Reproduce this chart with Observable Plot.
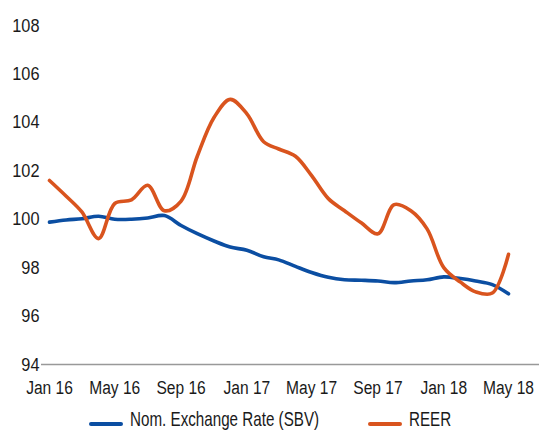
<!DOCTYPE html>
<html>
<head>
<meta charset="utf-8">
<script src="https://cdn.jsdelivr.net/npm/d3@7"></script>
<script src="https://cdn.jsdelivr.net/npm/@observablehq/plot@0.6"></script>
<style>
  html, body { margin: 0; padding: 0; background: #fff; }
  body { width: 539px; height: 431px; overflow: hidden; position: relative; font-family: "Liberation Sans", Arial, sans-serif; }
  #chart { position: absolute; left: 0; top: 0; }
  #legend { position: absolute; left: 0; top: 400px; }
</style>
</head>
<body>
<div id="chart"></div>
<svg id="legend" width="539" height="31"></svg>
<script>
const months = ["2016-01","2016-02","2016-03","2016-04","2016-05","2016-06","2016-07","2016-08","2016-09","2016-10","2016-11","2016-12",
  "2017-01","2017-02","2017-03","2017-04","2017-05","2017-06","2017-07","2017-08","2017-09","2017-10","2017-11","2017-12",
  "2018-01","2018-02","2018-03","2018-04","2018-05"];
const nomExchange = [99.88,99.97,100.02,100.12,100.0,100.0,100.05,100.15,99.74,99.4,99.1,98.85,
  98.72,98.45,98.32,98.05,97.8,97.6,97.5,97.48,97.45,97.38,97.45,97.5,
  97.62,97.55,97.45,97.3,96.92];
const reer = [101.6,100.95,100.3,99.2,100.65,100.8,101.4,100.35,100.75,102.6,104.2,104.95,
  104.35,103.2,102.9,102.6,101.8,100.85,100.35,99.85,99.4,100.6,100.35,99.6,
  98.0,97.4,97.0,96.95,98.55];
const seriesNames = ["Nom. Exchange Rate (SBV)", "REER"];
const seriesColors = ["#0b4ea2", "#d9541e"];
const xTicks = ["2016-01","2016-05","2016-09","2017-01","2017-05","2017-09","2018-01","2018-05"];
const yTicks = [94, 96, 98, 100, 102, 104, 106, 108];
const monthAbbr = ["Jan","Feb","Mar","Apr","May","Jun","Jul","Aug","Sep","Oct","Nov","Dec"];

const parse = s => new Date(Date.UTC(+s.slice(0,4), +s.slice(5,7) - 1, 1));
const rows = [];
months.forEach((m, i) => {
  rows.push({date: parse(m), value: nomExchange[i], series: seriesNames[0]});
  rows.push({date: parse(m), value: reer[i], series: seriesNames[1]});
});

const font = "'Liberation Sans', Arial, sans-serif";
const chart = Plot.plot({
  width: 539,
  height: 405,
  marginLeft: 49,
  marginRight: 31,
  marginTop: 25,
  marginBottom: 41,
  style: {fontFamily: font, fontSize: "19px", color: "#1a1a1a", background: "#fff"},
  x: {type: "utc", domain: [parse(months[0]), parse(months[months.length - 1])]},
  y: {domain: [94, 108]},
  color: {domain: seriesNames, range: seriesColors},
  marks: [
    Plot.ruleY([94], {stroke: "#999", strokeWidth: 1.5, insetLeft: -8, insetRight: -31}),
    Plot.axisY({ticks: yTicks, tickSize: 0, tickPadding: 10, label: null, fontSize: 19}),
    Plot.axisX({ticks: xTicks.map(parse), tickSize: 0, tickPadding: 16, label: null, fontSize: 19,
      tickFormat: d => monthAbbr[d.getUTCMonth()] + " " + String(d.getUTCFullYear()).slice(2)}),
    Plot.line(rows, {x: "date", y: "value", stroke: "series", z: "series", strokeWidth: 3.6, curve: "catmull-rom"})
  ]
});
document.getElementById("chart").appendChild(chart);

// condense tick label glyphs horizontally (narrow typeface look)
function condense(sel, s) {
  chart.querySelectorAll(sel).forEach(t => {
    const tr = t.getAttribute("transform");
    if (tr) {
      t.setAttribute("transform", tr + ` scale(${s},1)`);
    } else {
      const x = +t.getAttribute("x") || 0, y = +t.getAttribute("y") || 0;
      t.setAttribute("transform", `translate(${x},${y}) scale(${s},1) translate(${-x},${-y})`);
    }
  });
}
condense('g[aria-label="y-axis tick label"] text', 0.86);
condense('g[aria-label="x-axis tick label"] text', 0.82);

// legend
const lg = d3.select("#legend");
const legendItems = [
  {name: seriesNames[0], color: seriesColors[0], x0: 89},
  {name: seriesNames[1], color: seriesColors[1], x0: 368}
];
legendItems.forEach(it => {
  lg.append("line").attr("x1", it.x0 + 2).attr("x2", it.x0 + 32).attr("y1", 24).attr("y2", 24)
    .attr("stroke", it.color).attr("stroke-width", 4).attr("stroke-linecap", "round");
  lg.append("text").attr("transform", `translate(${it.x0 + 41},26) scale(0.76,1)`)
    .attr("font-family", font).attr("font-size", 20).attr("fill", "#1a1a1a").text(it.name);
});
</script>
</body>
</html>
